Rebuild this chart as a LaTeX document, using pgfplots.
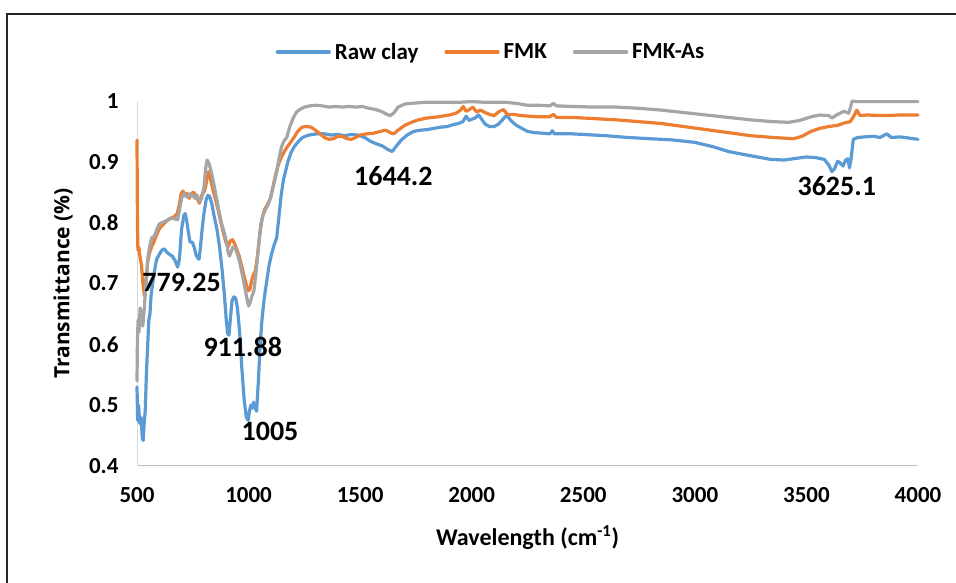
\documentclass[border=0pt]{standalone}
\usepackage{fontspec}
\setmainfont{Carlito}
\newfontfamily\osfont{Open Sans}
\usepackage{pgfplots}
\pgfplotsset{compat=1.18}
\definecolor{cblue}{HTML}{5B9BD5}
\definecolor{corange}{HTML}{ED7D31}
\definecolor{cgray}{HTML}{A5A5A5}
\definecolor{axgray}{HTML}{BFBFBF}
\definecolor{axlgray}{HTML}{D9D9D9}
\begin{document}
\begin{tikzpicture}
\begin{axis}[
  at={(137pt,117pt)}, anchor=south west,
  scale only axis, width=781pt, height=365pt,
  xmin=500, xmax=4000, ymin=0.4, ymax=1,
  xtick={500,1000,...,4000},
  ytick={0.4,0.5,0.6,0.7,0.8,0.9,1},
  axis x line*=bottom, axis y line*=left,
  x axis line style={draw=axgray, line width=1pt, -},
  y axis line style={draw=axlgray, line width=1pt, -},
  major tick length=0pt,
  clip=false,
  /pgf/number format/assume math mode=true,
  /pgf/number format/1000 sep={},
  yticklabel style={/pgf/number format/fixed, /pgf/number format/precision=1, xshift=-15pt},
  xticklabel style={yshift=-18pt},
  tick label style={font=\bfseries\fontsize{23}{23}\selectfont},
  xlabel={Wavelength (cm\textsuperscript{-1})},
  xlabel style={at={(axis description cs:0.5,-0.197)}, anchor=center, font=\bfseries\fontsize{24}{24}\selectfont},
  ylabel={Transmittance (\%)},
  ylabel style={at={(axis description cs:-0.0948,0.5)}, anchor=center, font=\osfont\bfseries\fontsize{21}{21}\selectfont},
  legend columns=3,
  legend style={at={(0.4533,1.134)}, anchor=center, draw=none, fill=none,
    font=\bfseries\fontsize{23}{23}\selectfont,
    /tikz/every odd column/.append style={column sep=2pt},
    /tikz/every even column/.append style={column sep=24pt}},
  legend image code/.code={\draw[#1] (0pt,0pt) -- (52pt,0pt);},
  every axis plot/.append style={line width=3.2pt, line join=round, line cap=round},
]
\addplot[cblue] coordinates {
(500,0.530) (503,0.475) (507,0.500) (512,0.470) (518,0.480) (524,0.445) (528,0.442) (532,0.470) (537,0.490) (542,0.550) (548,0.600) (553,0.640) (558,0.650) (563,0.680) (570,0.700) (578,0.720) (588,0.740) (600,0.748) (612,0.755) (622,0.757) (632,0.752) (645,0.748) (658,0.745) (670,0.738) (682,0.727) (690,0.740) (700,0.790) (710,0.812) (716,0.815) (722,0.805) (730,0.785) (738,0.768) (748,0.768) (756,0.760) (764,0.748) (772,0.742) (778,0.740) (784,0.758) (792,0.790) (800,0.815) (810,0.838) (818,0.845) (826,0.843) (836,0.830) (846,0.810) (858,0.790) (870,0.760) (882,0.720) (892,0.680) (900,0.640) (906,0.618) (912,0.615) (918,0.640) (926,0.672) (934,0.678) (942,0.676) (950,0.660) (960,0.620) (970,0.560) (980,0.510) (990,0.480) (998,0.475) (1004,0.490) (1010,0.500) (1016,0.495) (1022,0.505) (1030,0.495) (1036,0.490) (1044,0.540) (1052,0.600) (1060,0.640) (1070,0.675) (1080,0.700) (1092,0.730) (1104,0.750) (1116,0.765) (1126,0.775) (1136,0.810) (1146,0.845) (1156,0.870) (1166,0.885) (1176,0.900) (1190,0.915) (1205,0.925) (1222,0.933) (1242,0.940) (1262,0.943) (1285,0.945) (1310,0.946) (1340,0.946) (1370,0.944) (1400,0.945) (1430,0.943) (1460,0.945) (1490,0.944) (1520,0.940) (1545,0.934) (1570,0.930) (1600,0.926) (1625,0.920) (1644,0.917) (1660,0.925) (1685,0.936) (1710,0.944) (1740,0.950) (1770,0.952) (1800,0.953) (1830,0.955) (1860,0.957) (1890,0.958) (1915,0.961) (1940,0.963) (1960,0.966) (1975,0.975) (1988,0.968) (2000,0.970) (2015,0.972) (2030,0.977) (2045,0.970) (2060,0.962) (2080,0.958) (2100,0.958) (2120,0.962) (2140,0.970) (2157,0.977) (2175,0.968) (2200,0.960) (2225,0.955) (2250,0.950) (2280,0.948) (2320,0.947) (2350,0.946) (2362,0.951) (2370,0.946) (2400,0.946) (2450,0.946) (2500,0.945) (2600,0.943) (2700,0.940) (2800,0.938) (2900,0.936) (3000,0.932) (3080,0.925) (3150,0.917) (3220,0.912) (3280,0.908) (3340,0.904) (3400,0.903) (3460,0.906) (3500,0.908) (3540,0.907) (3580,0.904) (3600,0.895) (3614,0.884) (3625,0.888) (3640,0.901) (3652,0.898) (3664,0.893) (3676,0.903) (3686,0.905) (3693,0.890) (3700,0.905) (3710,0.937) (3730,0.940) (3760,0.941) (3800,0.942) (3830,0.940) (3860,0.946) (3880,0.940) (3920,0.941) (3960,0.939) (4000,0.937)
};
\addlegendentry{Raw clay}
\addplot[corange] coordinates {
(500,0.936) (502,0.800) (504,0.755) (508,0.760) (513,0.745) (520,0.730) (527,0.700) (533,0.680) (540,0.700) (548,0.735) (556,0.750) (565,0.760) (575,0.768) (588,0.780) (600,0.790) (612,0.795) (625,0.800) (640,0.805) (655,0.808) (668,0.810) (680,0.815) (690,0.830) (698,0.848) (706,0.852) (714,0.845) (724,0.848) (734,0.840) (744,0.848) (754,0.850) (762,0.845) (772,0.838) (780,0.832) (790,0.845) (800,0.850) (808,0.860) (816,0.880) (822,0.884) (830,0.870) (840,0.855) (852,0.838) (864,0.820) (876,0.800) (888,0.782) (898,0.768) (908,0.760) (918,0.770) (928,0.772) (938,0.765) (948,0.755) (958,0.745) (968,0.730) (980,0.712) (990,0.698) (998,0.688) (1006,0.690) (1014,0.705) (1022,0.715) (1030,0.720) (1040,0.745) (1050,0.780) (1060,0.805) (1072,0.822) (1085,0.830) (1098,0.840) (1110,0.860) (1122,0.880) (1135,0.897) (1150,0.910) (1165,0.920) (1180,0.928) (1200,0.938) (1220,0.950) (1240,0.957) (1260,0.958) (1280,0.957) (1300,0.952) (1320,0.946) (1340,0.940) (1360,0.937) (1380,0.938) (1400,0.942) (1420,0.942) (1440,0.938) (1460,0.937) (1480,0.940) (1500,0.944) (1530,0.946) (1560,0.947) (1590,0.950) (1615,0.952) (1635,0.948) (1650,0.946) (1670,0.952) (1700,0.960) (1730,0.965) (1760,0.969) (1800,0.972) (1850,0.974) (1900,0.977) (1930,0.980) (1950,0.985) (1962,0.991) (1975,0.983) (1990,0.986) (2005,0.990) (2022,0.982) (2040,0.985) (2060,0.981) (2080,0.978) (2100,0.976) (2120,0.982) (2142,0.986) (2160,0.978) (2190,0.978) (2220,0.976) (2260,0.975) (2300,0.974) (2350,0.974) (2366,0.978) (2380,0.973) (2450,0.973) (2550,0.971) (2650,0.969) (2750,0.966) (2850,0.963) (2950,0.958) (3050,0.953) (3150,0.948) (3250,0.943) (3350,0.940) (3442,0.938) (3480,0.942) (3520,0.950) (3560,0.955) (3600,0.958) (3640,0.960) (3670,0.964) (3696,0.966) (3712,0.975) (3726,0.985) (3740,0.976) (3771,0.977) (3850,0.976) (3920,0.977) (4000,0.977)
};
\addlegendentry{FMK}
\addplot[cgray] coordinates {
(500,0.540) (502,0.610) (505,0.640) (509,0.620) (514,0.660) (520,0.650) (526,0.630) (533,0.660) (540,0.700) (548,0.740) (556,0.760) (566,0.775) (578,0.778) (590,0.790) (600,0.798) (612,0.800) (625,0.802) (640,0.805) (655,0.808) (670,0.806) (682,0.805) (690,0.820) (700,0.840) (710,0.848) (720,0.843) (730,0.842) (740,0.848) (750,0.845) (760,0.840) (770,0.845) (780,0.835) (790,0.840) (800,0.858) (808,0.890) (814,0.903) (822,0.898) (832,0.885) (842,0.868) (854,0.845) (866,0.822) (878,0.800) (890,0.785) (900,0.770) (908,0.752) (914,0.745) (920,0.750) (930,0.760) (940,0.758) (950,0.748) (960,0.735) (970,0.718) (980,0.700) (990,0.680) (1000,0.663) (1008,0.670) (1016,0.680) (1024,0.688) (1034,0.720) (1044,0.760) (1054,0.795) (1064,0.812) (1076,0.822) (1088,0.830) (1100,0.843) (1112,0.862) (1124,0.880) (1136,0.905) (1148,0.925) (1160,0.935) (1171,0.940) (1185,0.958) (1200,0.972) (1215,0.982) (1230,0.986) (1250,0.990) (1275,0.992) (1300,0.993) (1330,0.992) (1360,0.990) (1390,0.991) (1420,0.990) (1450,0.991) (1480,0.990) (1510,0.991) (1540,0.988) (1570,0.986) (1600,0.982) (1620,0.978) (1634,0.976) (1650,0.980) (1670,0.990) (1700,0.995) (1725,0.996) (1760,0.997) (1800,0.998) (1850,0.998) (1900,0.998) (1950,0.998) (2000,0.999) (2050,0.998) (2100,0.998) (2150,0.998) (2200,0.996) (2250,0.993) (2300,0.993) (2350,0.992) (2366,0.996) (2380,0.992) (2450,0.991) (2550,0.990) (2650,0.990) (2750,0.988) (2850,0.985) (2950,0.981) (3050,0.977) (3150,0.973) (3250,0.969) (3350,0.966) (3420,0.965) (3470,0.968) (3520,0.974) (3560,0.977) (3600,0.976) (3614,0.972) (3635,0.977) (3667,0.983) (3690,0.980) (3700,0.993) (3705,1.000) (3720,0.999) (3800,0.999) (3900,0.999) (4000,0.999)
};
\addlegendentry{FMK-As}
\begin{scope}[every node/.style={font=\bfseries\fontsize{28}{28}\selectfont, inner sep=0pt, anchor=center}]
\node at (axis cs:700,0.7015) {779.25};
\node at (axis cs:974,0.5954) {911.88};
\node at (axis cs:1096,0.4567) {1005};
\node at (axis cs:1649,0.877) {1644.2};
\node at (axis cs:3636,0.861) {3625.1};
\end{scope}
\end{axis}
\draw[line width=1.2pt, black!85] (7pt,-10pt) -- (7pt,569pt) -- (970pt,569pt);
\pgfresetboundingbox
\path[use as bounding box] (0pt,0pt) rectangle (956pt,583pt);
\end{tikzpicture}
\end{document}
